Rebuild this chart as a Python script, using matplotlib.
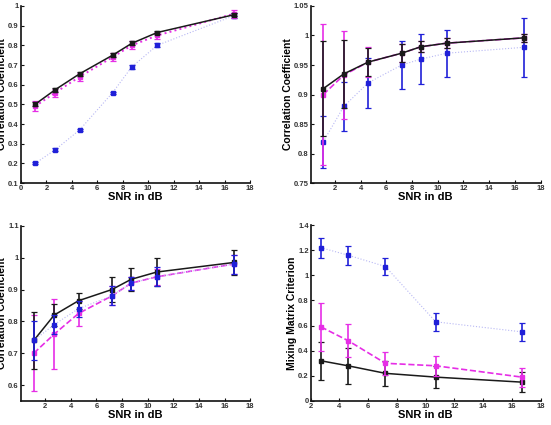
import matplotlib
matplotlib.use("Agg")
import matplotlib.pyplot as plt
import numpy as np

plt.rcParams["font.family"] = ["Liberation Sans", "DejaVu Sans"]

# ---------------- data ----------------
snr7 = [1.1, 2.7, 4.6, 7.2, 8.7, 10.7, 16.7]
snr5 = [2.7, 4.6, 7.2, 10.7, 16.7]

# panel 1
p1_black = [0.50, 0.575, 0.655, 0.75, 0.81, 0.865, 0.955]
p1_black_err = [0.01, 0.01, 0.01, 0.01, 0.01, 0.008, 0.008]
p1_mag = [0.49, 0.56, 0.64, 0.74, 0.80, 0.85, 0.96]
p1_mag_err = [0.025, 0.02, 0.02, 0.02, 0.02, 0.02, 0.02]
p1_blue = [0.20, 0.27, 0.37, 0.56, 0.69, 0.80, 0.95]
p1_blue_err = [0.005, 0.008, 0.005, 0.005, 0.008, 0.01, 0.012]

# panel 2
p2_black = [0.91, 0.935, 0.955, 0.97, 0.981, 0.987, 0.996]
p2_black_err = [0.08, 0.058, 0.024, 0.015, 0.009, 0.009, 0.007]
p2_mag = [0.90, 0.933, 0.955, 0.97, 0.981, 0.987, 0.996]
p2_mag_err = [0.12, 0.074, 0.025, 0.015, 0.009, 0.009, 0.007]
p2_blue = [0.82, 0.88, 0.92, 0.95, 0.96, 0.97, 0.98]
p2_blue_err = [0.044, 0.042, 0.042, 0.04, 0.042, 0.04, 0.05]

# panel 3
p3_black = [0.74, 0.82, 0.865, 0.90, 0.932, 0.955, 0.985]
p3_black_err = [0.09, 0.035, 0.025, 0.04, 0.036, 0.043, 0.04]
p3_mag = [0.70, 0.76, 0.825, 0.88, 0.92, 0.94, 0.98]
p3_mag_err = [0.12, 0.11, 0.04, 0.03, 0.02, 0.025, 0.03]
p3_blue = [0.74, 0.79, 0.84, 0.88, 0.92, 0.94, 0.98]
p3_blue_err = [0.06, 0.03, 0.025, 0.03, 0.02, 0.03, 0.03]

# panel 4
p4_black = [0.32, 0.28, 0.22, 0.19, 0.15]
p4_black_err = [0.15, 0.145, 0.10, 0.09, 0.08]
p4_mag = [0.59, 0.48, 0.30, 0.28, 0.19]
p4_mag_err = [0.19, 0.13, 0.09, 0.08, 0.075]
p4_blue = [1.22, 1.16, 1.07, 0.63, 0.55]
p4_blue_err = [0.08, 0.075, 0.07, 0.07, 0.07]

# ---------------- styling ----------------
BLACK = "#1a1a1a"
MAG = "#e62ee6"
BLUE = "#2020d8"
BLUE_LINE = "#b8b8f4"

fig = plt.figure(figsize=(5.51, 4.25), dpi=100)

def style(ax, xlim, ylim, xticks, yticks, ylabel, ylab_x):
    ax.set_xlim(*xlim)
    ax.set_ylim(*ylim)
    ax.set_xticks(xticks)
    ax.set_yticks(yticks)
    ax.set_xticklabels([("%g" % t) for t in xticks])
    ax.set_yticklabels([("%g" % t) for t in yticks])
    for s in ("top", "right"):
        ax.spines[s].set_visible(False)
    for s in ("left", "bottom"):
        ax.spines[s].set_linewidth(1.2)
        ax.spines[s].set_color("#111111")
    ax.tick_params(direction="in", length=2.5, width=0.8, labelsize=5.5,
                   pad=1.5, colors="#111111", labelcolor="#333333")
    for lab in ax.get_xticklabels() + ax.get_yticklabels():
        lab.set_fontweight("bold")
    ax.set_xlabel("SNR in dB", fontsize=8, fontweight="bold", labelpad=0)
    ax.set_ylabel(ylabel, fontsize=7.5, fontweight="bold")
    ax.yaxis.set_label_coords(ylab_x, 0.5)

def series(ax, x, y, e, color, lcolor, ls, lw, z):
    ax.plot(x, y, color=lcolor, ls=ls, lw=lw, zorder=z)
    ax.errorbar(x, y, yerr=e, fmt="s", ms=2.2, color=color, ecolor=color,
                elinewidth=1.2, capsize=2, capthick=0.9, zorder=z + 0.5)

ax1 = fig.add_axes([0.038, 0.569, 0.416, 0.417])
series(ax1, snr7, p1_blue, p1_blue_err, BLUE, BLUE_LINE, ":", 0.8, 2)
series(ax1, snr7, p1_mag, p1_mag_err, MAG, MAG, ":", 1.4, 3)
series(ax1, snr7, p1_black, p1_black_err, BLACK, BLACK, "-", 1.1, 4)
style(ax1, (0, 18), (0.1, 1.0), np.arange(0, 19, 2), np.round(np.arange(0.1, 1.01, 0.1), 2),
      "Correlation Coefficient", -0.061)

ax2 = fig.add_axes([0.564, 0.569, 0.417, 0.417])
series(ax2, snr7, p2_blue, p2_blue_err, BLUE, BLUE_LINE, ":", 0.8, 2)
series(ax2, snr7, p2_mag, p2_mag_err, MAG, MAG, "--", 1.2, 3)
series(ax2, snr7, p2_black, p2_black_err, BLACK, BLACK, "-", 1.1, 4)
style(ax2, (0.13, 18), (0.75, 1.05), np.arange(2, 19, 2), np.round(np.arange(0.75, 1.051, 0.05), 2),
      "Correlation Coefficient", -0.078)

ax3 = fig.add_axes([0.038, 0.0565, 0.416, 0.412])
series(ax3, snr7, p3_mag, p3_mag_err, MAG, MAG, "--", 1.2, 2)
series(ax3, snr7, p3_black, p3_black_err, BLACK, BLACK, "-", 1.1, 3)
series(ax3, snr7, p3_blue, p3_blue_err, BLUE, BLUE_LINE, ":", 0.8, 4)
style(ax3, (0.1, 18), (0.55, 1.1), np.arange(2, 19, 2), np.round(np.arange(0.6, 1.11, 0.1), 2),
      "Correlation Coefficient", -0.061)

ax4 = fig.add_axes([0.564, 0.0565, 0.417, 0.414])
series(ax4, snr5, p4_black, p4_black_err, BLACK, BLACK, "-", 1.1, 2)
series(ax4, snr5, p4_mag, p4_mag_err, MAG, MAG, "--", 1.2, 3)
series(ax4, snr5, p4_blue, p4_blue_err, BLUE, BLUE_LINE, ":", 0.8, 4)
style(ax4, (2, 18), (0, 1.4), np.arange(2, 19, 2), np.round(np.arange(0, 1.41, 0.2), 2),
      "Mixing Matrix Criterion", -0.06)

fig.savefig("out.png", dpi=100)
